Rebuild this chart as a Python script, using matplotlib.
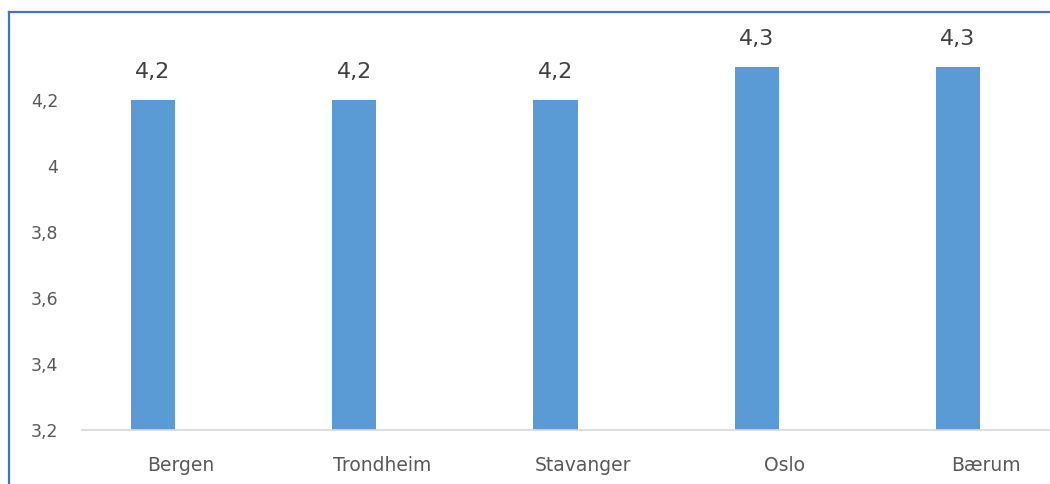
import matplotlib
matplotlib.use("Agg")
import matplotlib.pyplot as plt
from matplotlib.transforms import ScaledTranslation
from matplotlib.lines import Line2D

categories = ["Bergen", "Trondheim", "Stavanger", "Oslo", "Bærum"]
values = [4.2, 4.2, 4.2, 4.3, 4.3]
value_labels = ["4,2", "4,2", "4,2", "4,3", "4,3"]
yticks = [3.2, 3.4, 3.6, 3.8, 4.0, 4.2]
ytick_labels = ["3,2", "3,4", "3,6", "3,8", "4", "4,2"]

plt.rcParams['font.family'] = ['DejaVu Sans']

W, H = 1050, 484
fig = plt.figure(figsize=(W / 100, H / 100), dpi=100)
ax = fig.add_axes([82 / W, (H - 430) / H, (1050 - 82) / W, (430 - 12) / H])

x = list(range(len(categories)))
ax.bar(x, values, width=0.22, color="#5B9BD5", bottom=0, zorder=2)

ax.set_ylim(3.2, 4.2 + 88 / 330)
ax.set_xlim(-71 / 201.25, (1050 - 153) / 201.25)

ax.set_yticks(yticks)
ax.set_yticklabels(ytick_labels, fontsize=12.5, color="#595959")
ax.tick_params(axis="y", length=0, pad=17)
ax.set_xticks([])

for s in ["top", "right", "left"]:
    ax.spines[s].set_visible(False)
ax.spines["bottom"].set_color("#D9D9D9")
ax.spines["bottom"].set_linewidth(1.2)

off = ScaledTranslation(28 / 100, 0, fig.dpi_scale_trans)
for i, c in enumerate(categories):
    ax.text(i, -0.085, c, transform=ax.get_xaxis_transform() + off,
            ha="center", va="center", fontsize=13.5, color="#595959")

for i, (v, lab) in enumerate(zip(values, value_labels)):
    ax.annotate(lab, (i, v), xytext=(0, 20), textcoords="offset points",
                ha="center", va="center", fontsize=16, color="#404040",
                annotation_clip=False)

# frame lines (left and top)
fig.add_artist(Line2D([8.5 / W, 8.5 / W], [0, (H - 11.5) / H], color="#4472C4", lw=1.6, transform=fig.transFigure))
fig.add_artist(Line2D([8.5 / W, 1.0], [(H - 11.5) / H, (H - 11.5) / H], color="#4472C4", lw=1.6, transform=fig.transFigure))

fig.savefig("out.png", dpi=100)
